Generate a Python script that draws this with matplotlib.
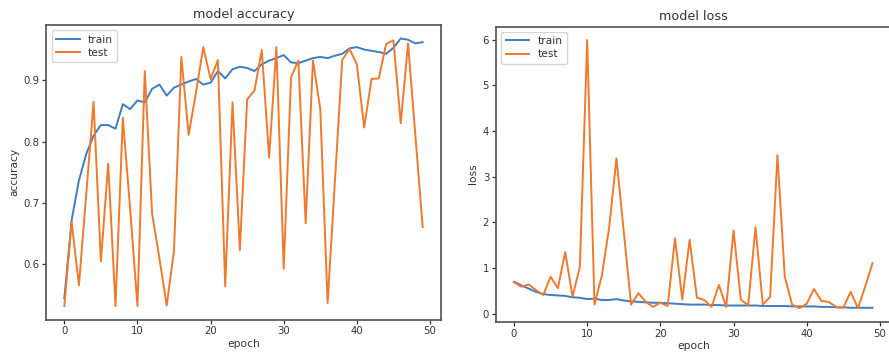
import matplotlib
matplotlib.use('Agg')
import matplotlib.pyplot as plt
import numpy as np

# training history
epochs = np.arange(50)

train_acc = [0.545, 0.672, 0.737, 0.780, 0.810, 0.827, 0.827, 0.821, 0.861, 0.853,
             0.867, 0.864, 0.886, 0.893, 0.875, 0.888, 0.893, 0.898, 0.902, 0.893,
             0.896, 0.915, 0.903, 0.918, 0.922, 0.920, 0.915, 0.926, 0.932, 0.936,
             0.941, 0.929, 0.928, 0.932, 0.936, 0.938, 0.936, 0.940, 0.943, 0.952,
             0.954, 0.950, 0.948, 0.946, 0.943, 0.953, 0.968, 0.966, 0.960, 0.962]
test_acc = [0.532, 0.669, 0.566, 0.715, 0.865, 0.605, 0.764, 0.532, 0.839, 0.690,
            0.532, 0.915, 0.683, 0.610, 0.533, 0.623, 0.938, 0.811, 0.880, 0.954,
            0.902, 0.933, 0.564, 0.864, 0.623, 0.869, 0.883, 0.949, 0.774, 0.954,
            0.593, 0.905, 0.932, 0.667, 0.932, 0.853, 0.537, 0.735, 0.933, 0.951,
            0.926, 0.823, 0.902, 0.903, 0.959, 0.965, 0.830, 0.960, 0.810, 0.661]

train_loss = [0.70, 0.62, 0.55, 0.48, 0.43, 0.41, 0.40, 0.39, 0.36, 0.35,
              0.32, 0.33, 0.30, 0.30, 0.32, 0.29, 0.27, 0.26, 0.25, 0.24,
              0.24, 0.23, 0.22, 0.21, 0.20, 0.20, 0.20, 0.19, 0.19, 0.18,
              0.18, 0.18, 0.18, 0.18, 0.17, 0.17, 0.17, 0.17, 0.16, 0.16,
              0.16, 0.16, 0.15, 0.15, 0.14, 0.14, 0.13, 0.13, 0.13, 0.13]
test_loss = [0.69, 0.59, 0.64, 0.52, 0.41, 0.81, 0.56, 1.35, 0.37, 1.03,
             5.99, 0.20, 0.83, 1.88, 3.40, 1.80, 0.20, 0.45, 0.26, 0.15,
             0.24, 0.17, 1.65, 0.31, 1.62, 0.35, 0.30, 0.15, 0.63, 0.15,
             1.82, 0.31, 0.18, 1.89, 0.20, 0.37, 3.47, 0.81, 0.20, 0.12,
             0.22, 0.54, 0.28, 0.26, 0.15, 0.13, 0.48, 0.12, 0.60, 1.11]

blue = '#3f7cc4'
orange = '#ef7a2c'
txt = '#333333'

plt.rcParams['font.family'] = 'DejaVu Sans'
plt.rcParams['text.color'] = txt
plt.rcParams['axes.labelcolor'] = txt
plt.rcParams['xtick.color'] = txt
plt.rcParams['ytick.color'] = txt

fig = plt.figure(figsize=(8.89, 3.59), dpi=100)
ax1 = fig.add_axes([0.0522, 0.110, 0.4434, 0.820])
ax2 = fig.add_axes([0.558, 0.104, 0.4437, 0.822])


def style(ax, title, ylabel):
    ax.set_title(title, fontsize=9.2, pad=5)
    ax.set_xlabel('epoch', fontsize=7.7, labelpad=2)
    ax.set_ylabel(ylabel, fontsize=7.7, labelpad=3)
    ax.tick_params(labelsize=7.3, length=3, width=0.9, pad=2)
    for s in ax.spines.values():
        s.set_color('#505050')
        s.set_linewidth(1.2)
    ax.legend(loc='upper left', fontsize=7.7, handlelength=2.2,
              borderpad=0.4, labelspacing=0.3, edgecolor='#cccccc')


ax1.plot(epochs, train_acc, color=blue, lw=1.4, label='train')
ax1.plot(epochs, test_acc, color=orange, lw=1.4, label='test')
ax1.set_yticks([0.6, 0.7, 0.8, 0.9])
style(ax1, 'model accuracy', 'accuracy')

ax2.plot(epochs, train_loss, color=blue, lw=1.4, label='train')
ax2.plot(epochs, test_loss, color=orange, lw=1.4, label='test')
style(ax2, 'model loss', 'loss')

fig.savefig('out.png', dpi=100)
